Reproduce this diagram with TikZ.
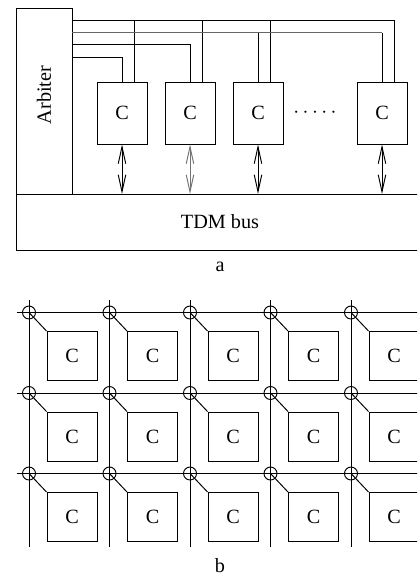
\documentclass[tikz,border=0pt]{standalone}
\usepackage{fontspec}
\setmainfont{Liberation Serif}
\usetikzlibrary{arrows.meta,positioning}

\begin{document}
\begin{tikzpicture}[
  x=0.02cm, y=-0.02cm,
  line width=0.55pt,
  every node/.style={font=\fontsize{11.5}{13}\selectfont},
  cbox/.style={draw, minimum width=1cm, minimum height=1.24cm, inner sep=0pt},
  gridbox/.style={draw, minimum width=1cm, minimum height=0.98cm, inner sep=0pt},
  hub/.style={draw, circle, minimum size=0.26cm, inner sep=0pt},
  caption/.style={inner sep=0pt},
  busarrow/.style={{Straight Barb[length=3.4mm,width=1.5mm]}-{Straight Barb[length=3.4mm,width=1.5mm]}},
  greywire/.style={draw=black!60, line width=0.9pt}
]
\clip (0,0) rectangle (417,575);

% part a: arbiter and TDM bus
\node[draw, minimum width=1.12cm, minimum height=3.72cm, inner sep=0pt] (arb) at (44,101) {};
\node[rotate=90] (arbtext) at (44,95) {Arbiter};
\node[draw, anchor=north west, minimum width=8.18cm, minimum height=1.12cm, inner sep=0pt] (bus) at (16,194) {};
\node (bustext) at (220,222) {TDM bus};

\node[cbox] (c1) at (122,113) {C};
\node[cbox] (c2) at (190,113) {C};
\node[cbox] (c3) at (258,113) {C};
\node[cbox] (c4) at (382,113) {C};
\node (dots) at (315,113) {${\cdot}\,{\cdot}\,{\cdot}\,{\cdot}\,{\cdot}$};

\path (arb.north east) ++(0,13) coordinate (w1) ++(0,12) coordinate (w2)
  ++(0,12) coordinate (w3) ++(0,13) coordinate (w4);

\draw (w1) -| ([xshift=0.25cm]c4.north);
\foreach \c in {c1,c2,c3}
  \draw ([xshift=0.25cm]\c.north) -- ([xshift=0.25cm]\c.north |- w1);
\draw[greywire] (w2) -- (c4.north |- w2);
\draw (c4.north |- w2) -- (c4.north);
\draw (c3.north) -- (c3.north |- w2);
\draw (w3) -| (c2.north);
\draw (w4) -| (c1.north);

\draw[busarrow] (c1.south) -- (c1.south |- bus.north);
\draw[busarrow, draw=black!55] (c2.south) -- (c2.south |- bus.north);
\draw[busarrow] (c3.south) -- (c3.south |- bus.north);
\draw[busarrow] (c4.south) -- (c4.south |- bus.north);

\node[caption] (laba) at (220,267) {a};

% part b: mesh
\foreach \j in {0,1,2} {
  \coordinate (hl\j) at (16.7,312.5+80.5*\j);
  \coordinate (hr\j) at (425,312.5+80.5*\j);
  \draw (hl\j) -- (hr\j);
}
\foreach \i in {0,...,4} {
  \coordinate (vt\i) at (29+80.5*\i,300);
  \coordinate (vb\i) at (29+80.5*\i,547);
  \draw (vt\i) -- (vb\i);
  \foreach \j in {0,1,2} {
    \node[hub] (k\i\j) at (29+80.5*\i,312.5+80.5*\j) {};
    \node[gridbox] (m\i\j) at (29+80.5*\i+43,312.5+80.5*\j+43.5) {C};
    \draw (k\i\j.center) -- (m\i\j.north west);
  }
}

\node[caption] (labb) at (220,566) {b};
\end{tikzpicture}
\end{document}
